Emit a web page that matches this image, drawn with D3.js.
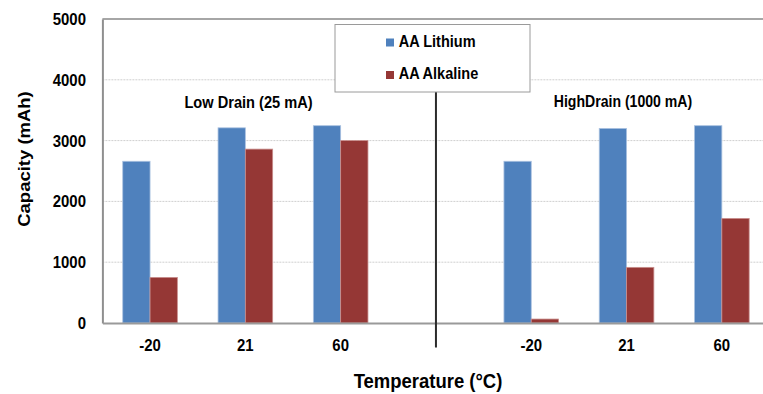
<!DOCTYPE html>
<html>
<head>
<meta charset="utf-8">
<script src="https://cdn.jsdelivr.net/npm/d3@7/dist/d3.min.js"></script>
<style>
  html, body { margin: 0; padding: 0; background: #fff; }
  svg { display: block; }
  text { font-family: "Liberation Sans", Arial, sans-serif; font-weight: bold; fill: #000; }
</style>
</head>
<body>
<svg id="chart" width="763" height="394"></svg>
<script>
// Battery capacity by temperature, for two discharge rates
const temperatures = ["-20", "21", "60"];
const drainModes = ["Low Drain (25 mA)", "HighDrain (1000 mA)"];
const seriesNames = ["AA Lithium", "AA Alkaline"];
const seriesColors = ["#4f81bd", "#953735"];
const seriesEdges = ["#a9c1e0", "#c98e8c"];
const lithiumLow = [2660, 3210, 3245];
const alkalineLow = [750, 2860, 3000];
const lithiumHigh = [2660, 3200, 3245];
const alkalineHigh = [65, 915, 1720];
const yTicks = [0, 1000, 2000, 3000, 4000, 5000];
const xTitle = "Temperature (°C)";
const yTitle = "Capacity (mAh)";

// one slot per temperature, plus an empty slot separating the two drain modes
const slots = [
  ...temperatures.map(t => "low" + t),
  "gap",
  ...temperatures.map(t => "high" + t)
];
const rows = [];
temperatures.forEach((t, i) => {
  rows.push({ slot: "low" + t, label: t, values: [lithiumLow[i], alkalineLow[i]] });
});
temperatures.forEach((t, i) => {
  rows.push({ slot: "high" + t, label: t, values: [lithiumHigh[i], alkalineHigh[i]] });
});

const svg = d3.select("#chart");
const plot = { left: 102.4, right: 769.5, top: 19, bottom: 323 };
const SQUEEZE = 0.88;

const x = d3.scaleBand().domain(slots).range([plot.left, plot.right]).padding(0);
const xInner = d3.scaleBand().domain(seriesNames).range([0, x.bandwidth()])
  .paddingInner(0).paddingOuter(0.745);
const y = d3.scaleLinear().domain([0, 5000]).range([plot.bottom, plot.top]);

function label(parent, px, py, str, size, anchor) {
  return parent.append("text")
    .attr("transform", `translate(${px},${py}) scale(${SQUEEZE},1)`)
    .attr("text-anchor", anchor || "middle")
    .style("font-size", size + "px")
    .text(str);
}

// horizontal gridlines
svg.append("g").selectAll("line")
  .data(yTicks.filter(v => v > 0 && v < 5000))
  .join("line")
  .attr("x1", plot.left).attr("x2", plot.right)
  .attr("y1", d => y(d)).attr("y2", d => y(d))
  .attr("stroke", "#cfcfcf").attr("stroke-width", 1)
  .attr("stroke-dasharray", "2,1");

// top frame line
svg.append("line")
  .attr("x1", plot.left).attr("x2", plot.right)
  .attr("y1", y(5000)).attr("y2", y(5000))
  .attr("stroke", "#a6a6a6").attr("stroke-width", 2);

// bars
const groups = svg.append("g").selectAll("g")
  .data(rows).join("g")
  .attr("transform", d => `translate(${x(d.slot)},0)`);
groups.selectAll("rect")
  .data(d => d.values.map((v, i) => ({ name: seriesNames[i], value: v, i })))
  .join("rect")
  .attr("x", d => xInner(d.name))
  .attr("width", xInner.bandwidth())
  .attr("y", d => y(d.value))
  .attr("height", d => y(0) - y(d.value))
  .attr("fill", d => seriesColors[d.i])
  .attr("stroke", d => seriesEdges[d.i])
  .attr("stroke-width", 0.8);

// y axis (line + labels)
const yAxis = d3.axisLeft(y).tickValues(yTicks).tickSize(0).tickPadding(16);
const yg = svg.append("g").attr("transform", `translate(${plot.left},0)`).call(yAxis);
yg.select(".domain").attr("stroke", "#8f8f8f").attr("stroke-width", 2);
yg.selectAll(".tick text").remove();
yTicks.forEach(v => label(svg, 86, y(v) + 6, String(v), 17, "end"));

// x axis (line + labels)
const xAxis = d3.axisBottom(x).tickSize(0).tickFormat("");
const xg = svg.append("g").attr("transform", `translate(0,${plot.bottom})`).call(xAxis);
xg.select(".domain").attr("stroke", "#9a9a9a").attr("stroke-width", 2);
rows.forEach(r => label(svg, x(r.slot) + x.bandwidth() / 2, 351, r.label, 17));

// divider between the two drain modes
svg.append("line")
  .attr("x1", x("gap") + x.bandwidth() / 2).attr("x2", x("gap") + x.bandwidth() / 2)
  .attr("y1", 60).attr("y2", 347.5)
  .attr("stroke", "#2b2b2b").attr("stroke-width", 2);

// drain mode captions
label(svg, 248.5, 108, drainModes[0], 16.6);
label(svg, 623, 107, drainModes[1], 16);

// axis titles
label(svg, 428, 388, xTitle, 21);
svg.append("text")
  .attr("transform", `translate(30,159) rotate(-90) scale(1,${SQUEEZE})`)
  .attr("text-anchor", "middle")
  .style("font-size", "18.5px")
  .text(yTitle);

// legend
const legend = svg.append("g");
legend.append("rect")
  .attr("x", 335).attr("y", 24.5).attr("width", 195).attr("height", 67.5)
  .attr("fill", "#fff").attr("stroke", "#9a9a9a").attr("stroke-width", 1);
const legendRows = [38.5, 71];
seriesNames.forEach((name, i) => {
  legend.append("rect")
    .attr("x", 386).attr("y", legendRows[i]).attr("width", 8).attr("height", 8)
    .attr("fill", seriesColors[i]);
  label(legend, 398.7, legendRows[i] + 8.4, name, 16.5, "start");
});
</script>
</body>
</html>
